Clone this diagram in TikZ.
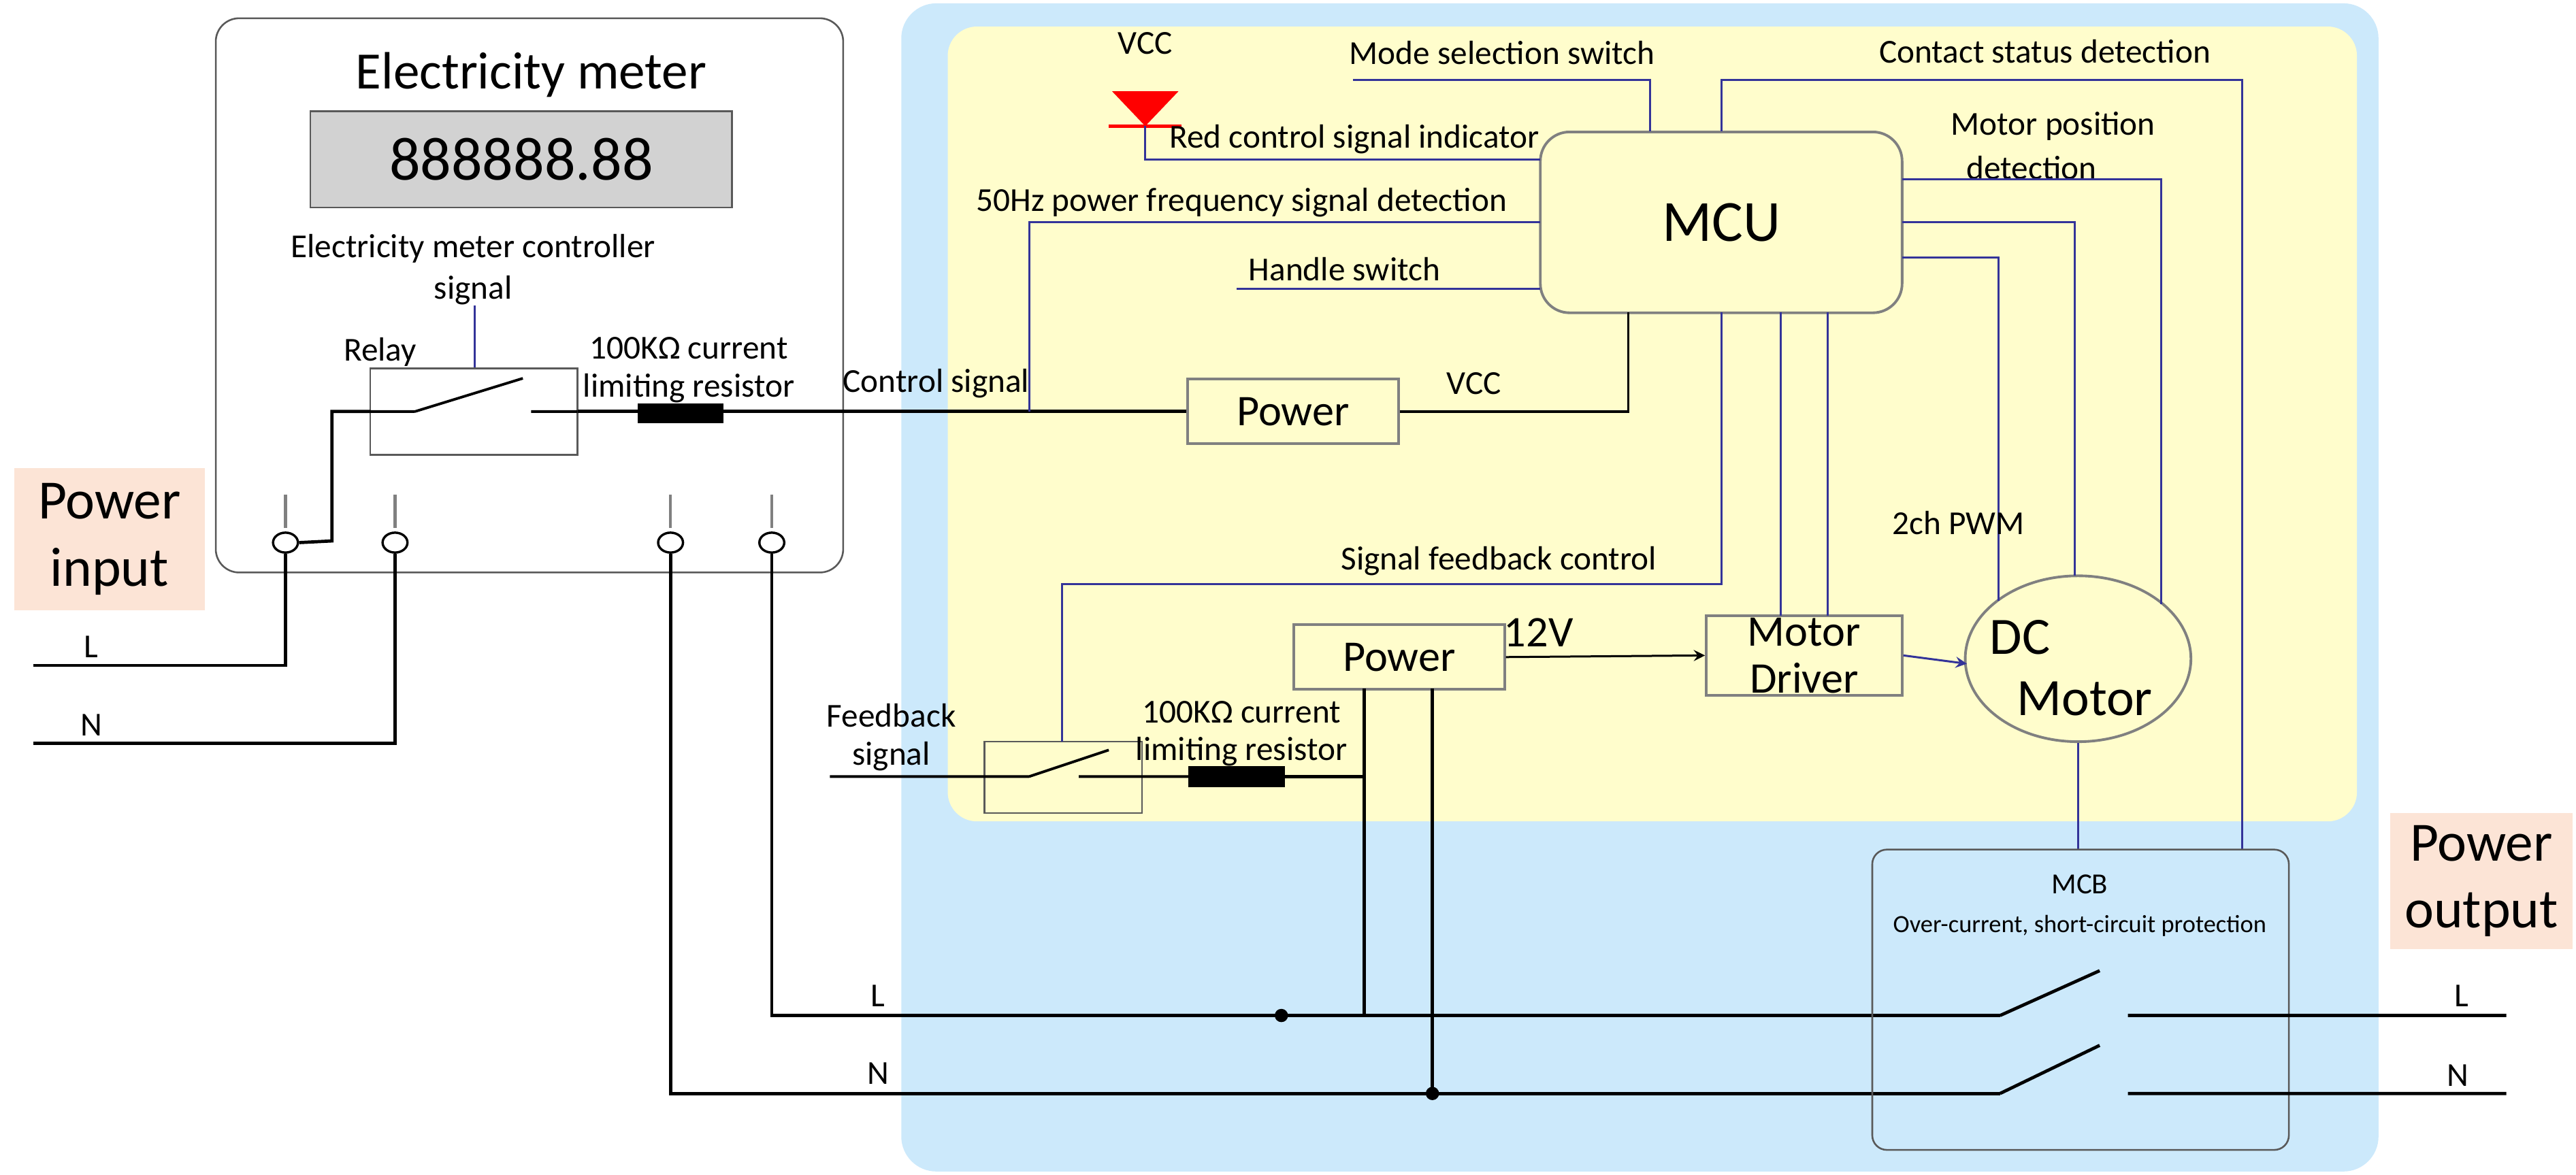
\documentclass[tikz,border=0pt]{standalone}
\usepackage{fontspec}
\usetikzlibrary{shapes.geometric}
\setmainfont{Carlito}
\begin{document}
\begin{tikzpicture}[x=0.02cm,y=-0.02cm,
  t/.style={inner sep=0pt,font=\fontsize{11.5}{12}\selectfont},
  blk/.style={black,line width=1.1pt},
  blu/.style={draw=blue!50!black!80,line width=0.7pt},
  box/.style={draw=gray!70!black,line width=0.6pt},
  term/.style={draw,ellipse,inner sep=0pt,fill=white,line width=0.8pt,minimum width=0.3cm,minimum height=0.24cm}]
\useasboundingbox (0,0) rectangle (1552,708);
\fill[rounded corners=12pt,fill={rgb,255:red,204;green,233;blue,251}] (543,2) rectangle (1433,706);
\fill[rounded corners=10pt,fill={rgb,255:red,255;green,253;blue,204}] (571,16) rectangle (1420,495);
% meter
\draw[box,rounded corners=8pt,fill=white] (130,11) rectangle (508,345);
\node[inner sep=0,font=\fontsize{18}{20}\selectfont] at (320,45) {Electricity meter};
\node[box,fill=gray!35,minimum width=5.08cm,minimum height=1.16cm,font=\fontsize{21}{22}\selectfont] (disp) at (314,96) {888888.88};
\node[t] at (285,150) {Electricity meter controller};
\node[t] at (285,175) {signal};
\draw[blu] (286,184) -- (286,222);
\node[t] at (229,212) {Relay};
\draw[box] (223,222) rectangle (348,274);
\draw[blk,line width=0.9pt] (223,248) -- (250,248) (250,248) -- (315,228) (320,248) -- (348,248);
\node[t] at (415,210) {100KΩ current};
\node[t] at (415,234) {limiting resistor};
\node[fill=black,minimum width=1.04cm,minimum height=0.24cm,inner sep=0] (r1) at (410,249) {};
\node[draw=gray,line width=0.9pt,minimum width=2.54cm,minimum height=0.78cm,font=\fontsize{15}{16}\selectfont,fill={rgb,255:red,255;green,253;blue,204}] (p1) at (779,248) {Power};
\draw[blk] (348,248) -- (p1.west);
\foreach \x in {172,238,404,465}{\draw[gray,line width=1pt] (\x,298) -- (\x,318);}
\node[term] (tL) at (172,327) {};
\node[term] (tN) at (238,327) {};
\node[term] (t3) at (404,327) {};
\node[term] (t4) at (465,327) {};
\draw[blk] (tL.east) -- (200,326) -- (200,248) -- (223,248);
\node[fill={rgb,255:red,252;green,228;blue,214},minimum width=2.3cm,minimum height=1.72cm,align=center,font=\fontsize{19}{23}\selectfont] at (66,325) {Power\\input};
\draw[blk] (20,401) -- (172,401) -- (tL.south);
\draw[blk] (20,448) -- (238,448) -- (tN.south);
\node[t] at (55,390) {L}; \node[t] at (55,437) {N};
\draw[blk] (t3.south) -- (404,659) -- (1205,659);
\draw[blk] (t4.south) -- (465,612) -- (1205,612);
\node[t] at (529,600) {L}; \node[t] at (529,647) {N};
\fill (772,612) circle (4); \fill (863,659) circle (4);
% power 2
\node[draw=gray,line width=0.9pt,minimum width=2.54cm,minimum height=0.78cm,font=\fontsize{15}{16}\selectfont,fill={rgb,255:red,255;green,253;blue,204}] (p2) at (843,396) {Power};
\draw[blk] (822,415) -- (822,612);
\draw[blk] (863,415) -- (863,659);
\node[draw=gray,line width=0.9pt,minimum width=2.36cm,minimum height=0.96cm,align=center,font=\fontsize{15}{16}\selectfont,inner sep=0,fill={rgb,255:red,255;green,253;blue,204}] (md) at (1087,395) {Motor\\Driver};
\draw[black,line width=0.7pt,-stealth] (p2.east) -- (md.west);
\node[inner sep=0,font=\fontsize{15}{16}\selectfont] at (927,381) {12V};
\node[draw=gray,line width=0.9pt,ellipse,minimum width=2.72cm,minimum height=2cm,fill={rgb,255:red,255;green,253;blue,204}] (dc) at (1252,397) {};
\node[inner sep=0,font=\fontsize{18}{20}\selectfont] at (1217,384) {DC};
\node[inner sep=0,font=\fontsize{18}{20}\selectfont] at (1256,421) {Motor};
\draw[blu,-stealth] (md.east) -- (1185,400);
% feedback relay
\draw[box] (593,447) rectangle (688,490);
\draw[blk,line width=0.9pt] (500,468) -- (620,468) (620,468) -- (668,452) (650,468) -- (716,468);
\node[fill=black,minimum width=1.16cm,minimum height=0.26cm,inner sep=0] (r2) at (745,468) {};
\draw[blk] (r2.east) -- (822,468);
\node[t] at (537,431) {Feedback}; \node[t] at (537,456) {signal};
\node[t] at (748,429) {100KΩ current}; \node[t] at (748,453) {limiting resistor};
% MCU
\node[draw=gray,line width=0.9pt,rounded corners=10pt,minimum width=4.36cm,minimum height=2.18cm,font=\fontsize{20}{22}\selectfont,fill={rgb,255:red,255;green,253;blue,204}] (mcu) at (1037,134) {MCU};
\draw[blu] (640,447) -- (640,352) -- (1037,352) -- (1037,188);
\node[t] at (903,338) {Signal feedback control};
\draw[blu] (1073,188) -- (1073,371) (1101,188) -- (1101,371);
\draw[blk,line width=0.9pt] (p1.east) -- (981,248) -- (981,188);
\node[t] at (888,231) {VCC};
\node[t] at (564,231) {Control signal};
\draw[blu] (620,248) -- (620,134) -- (928,134);
\node[t] at (748,122) {50Hz power frequency signal detection};
\node[t] at (810,162) {Handle switch};
\draw[blu] (745,174) -- (928,174);
\node[t] at (690,26) {VCC};
\fill[red] (670,55) -- (710,55) -- (690,76) -- cycle;
\draw[red,line width=1pt] (668,76) -- (712,76);
\draw[blu] (690,76) -- (690,96) -- (928,96);
\node[t] at (816,84) {Red control signal indicator};
\node[t] at (905,32) {Mode selection switch};
\draw[blu] (815,48) -- (994,48) -- (994,79);
\node[t] at (1232,31) {Contact status detection};
\draw[blu] (1037,79) -- (1037,48) -- (1351,48) -- (1351,512);
\node[t] at (1237,76) {Motor position};
\node[t] at (1224,101) {detection};
\draw[blu] (1146,108) -- (1302,108) -- (1302,364);
\draw[blu] (1146,134) -- (1250,134) -- (1250,347);
\draw[blu] (1146,155) -- (1204,155) -- (1204,362);
\node[t] at (1180,315) {2ch PWM};
\draw[blu] (dc.south) -- (1252,512);
% MCB
\draw[box,rounded corners=5pt] (1128,512) rectangle (1379,693);
\node[inner sep=0,font=\fontsize{10}{11}\selectfont] at (1253,533) {MCB};
\node[inner sep=0,font=\fontsize{8.5}{9}\selectfont] at (1253,558) {Over-current, short-circuit protection};
\draw[blk] (1205,612) -- (1265,585) (1282,612) -- (1510,612);
\draw[blk] (1205,659) -- (1265,630) (1282,659) -- (1510,659);
\node[t] at (1483,600) {L}; \node[t] at (1481,648) {N};
\node[fill={rgb,255:red,252;green,228;blue,214},minimum width=2.2cm,minimum height=1.64cm,align=center,font=\fontsize{19}{23}\selectfont] at (1495,531) {Power\\output};
\end{tikzpicture}
\end{document}
